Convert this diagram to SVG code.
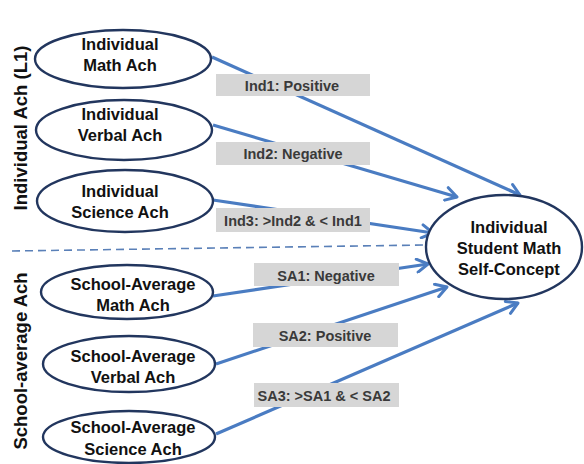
<svg xmlns="http://www.w3.org/2000/svg" width="584" height="464" viewBox="0 0 584 464">
  <style>
    .node ellipse { fill: #ffffff; stroke: #22365e; stroke-width: 2.4; }
    .node text { font-family: "Liberation Sans", Arial, sans-serif; font-weight: bold; font-size: 16.5px; fill: #111111; text-anchor: middle; }
    .edge { stroke: #4a7cc2; stroke-width: 3.2; fill: none; marker-end: url(#arrow); }
    .tag rect { fill: #d6d6d6; }
    .tag text { font-family: "Liberation Sans", Arial, sans-serif; font-weight: bold; font-size: 14.5px; fill: #3a3a3a; text-anchor: middle; }
    .group-label { font-family: "Liberation Sans", Arial, sans-serif; font-weight: bold; font-size: 18.5px; fill: #111111; text-anchor: middle; }
    .divider { stroke: #5a80b8; stroke-width: 1.6; stroke-dasharray: 8 5; fill: none; }
  </style>
  <defs>
    <marker id="arrow" markerUnits="userSpaceOnUse" viewBox="0 0 16 16" markerWidth="16" markerHeight="16" refX="14" refY="8" orient="auto">
      <path d="M3,1.5 L14,8 L3,14.5" fill="none" stroke="#4a7cc2" stroke-width="3" stroke-linecap="round" stroke-linejoin="round"/>
    </marker>
  </defs>

  <rect x="0" y="0" width="584" height="464" fill="#ffffff"/>

  <!-- level labels -->
  <text class="group-label" transform="translate(27,128) rotate(-90)">Individual Ach (L1)</text>
  <text class="group-label" transform="translate(27,361) rotate(-90)">School-average Ach</text>

  <!-- level divider -->
  <line class="divider" x1="12" y1="251" x2="425" y2="245"/>

  <!-- paths with effect labels -->
  <g id="connectors">
    <line class="edge" x1="212" y1="57" x2="520" y2="195"/>
    <line class="edge" x1="213" y1="125" x2="457" y2="197"/>
    <line class="edge" x1="213" y1="200" x2="433" y2="233"/>
    <line class="edge" x1="213" y1="296" x2="428" y2="264"/>
    <line class="edge" x1="216" y1="364" x2="447" y2="287"/>
    <line class="edge" x1="216" y1="434" x2="518" y2="303"/>

    <g class="tag"><rect x="216" y="74" width="154" height="22"/><text x="292" y="90.5">Ind1: Positive</text></g>
    <g class="tag"><rect x="216" y="142" width="154" height="23"/><text x="293" y="158.5">Ind2: Negative</text></g>
    <g class="tag"><rect x="216" y="208" width="154" height="24"/><text x="293" y="225.5">Ind3: &gt;Ind2 &amp; &lt; Ind1</text></g>
    <g class="tag"><rect x="254" y="263" width="145" height="23"/><text x="326" y="280.5">SA1: Negative</text></g>
    <g class="tag"><rect x="253" y="323" width="145" height="24"/><text x="325" y="340.5">SA2: Positive</text></g>
    <g class="tag"><rect x="254" y="383" width="145" height="24"/><text x="324" y="400.5">SA3: &gt;SA1 &amp; &lt; SA2</text></g>
  </g>

  <!-- individual-level predictors -->
  <g id="ind-math" class="node">
    <ellipse cx="123" cy="59" rx="88" ry="29"/>
    <text x="120" y="50">Individual</text>
    <text x="120" y="71">Math Ach</text>
  </g>
  <g id="ind-verbal" class="node">
    <ellipse cx="124" cy="130" rx="88" ry="30"/>
    <text x="120" y="120">Individual</text>
    <text x="120" y="141">Verbal Ach</text>
  </g>
  <g id="ind-science" class="node">
    <ellipse cx="125" cy="201" rx="88" ry="31"/>
    <text x="120" y="197">Individual</text>
    <text x="120" y="218">Science Ach</text>
  </g>

  <!-- school-average predictors -->
  <g id="sa-math" class="node">
    <ellipse cx="127" cy="292" rx="86" ry="27"/>
    <text x="133" y="290">School-Average</text>
    <text x="133" y="311">Math Ach</text>
  </g>
  <g id="sa-verbal" class="node">
    <ellipse cx="129" cy="364" rx="86" ry="28"/>
    <text x="133" y="362">School-Average</text>
    <text x="133" y="383">Verbal Ach</text>
  </g>
  <g id="sa-science" class="node">
    <ellipse cx="129" cy="437" rx="86" ry="26"/>
    <text x="133" y="433">School-Average</text>
    <text x="133" y="455">Science Ach</text>
  </g>

  <!-- outcome -->
  <g id="self-concept" class="node">
    <ellipse cx="504" cy="247" rx="78" ry="52"/>
    <text x="509" y="233">Individual</text>
    <text x="509" y="254">Student Math</text>
    <text x="509" y="275">Self-Concept</text>
  </g>
</svg>
